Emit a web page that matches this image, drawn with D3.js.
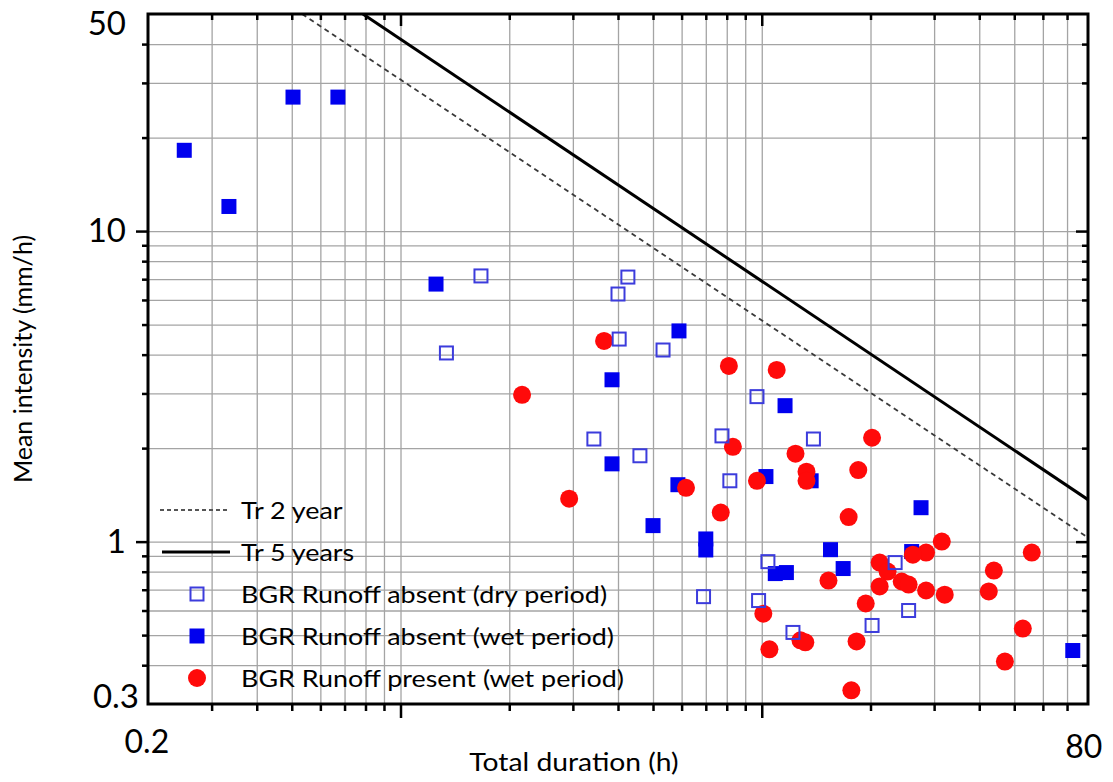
<!DOCTYPE html>
<html lang="en">
<head>
<meta charset="utf-8">
<script src="https://d3js.org/d3.v7.min.js"></script>
<title>Mean intensity vs total duration</title>
<style>
  body { margin: 0; background: #fff; }
  text { font-family: Lato, "Open Sans", sans-serif; fill: #000; }
</style>
</head>
<body>
<div id="chart"></div>
<script>
// [duration (h), mean intensity (mm/h)]
const dryAbsent = [
  [1.67, 7.17], [4.26, 7.11], [4.0, 6.27], [4.03, 4.49], [1.34, 4.05], [5.33, 4.14],
  [9.7, 2.93], [3.43, 2.14], [7.76, 2.19], [13.9, 2.14], [4.6, 1.89], [8.16, 1.57],
  [10.4, 0.862], [23.4, 0.856], [6.9, 0.665], [9.8, 0.646], [25.5, 0.60], [20.2, 0.537],
  [12.2, 0.51]
];
const wetAbsent = [
  [0.252, 18.2], [0.335, 12.0], [0.504, 27.0], [0.671, 27.0], [1.254, 6.75], [5.9, 4.77],
  [3.85, 3.32], [11.6, 2.74], [3.85, 1.78], [5.86, 1.525], [10.27, 1.62], [13.7, 1.57],
  [5.0, 1.126], [7.0, 1.02], [7.0, 0.94], [15.5, 0.942], [10.9, 0.789], [11.7, 0.795],
  [16.8, 0.819], [27.6, 1.286], [26.0, 0.929], [72.6, 0.446]
];
const wetPresent = [
  [3.66, 4.43], [2.17, 2.97], [8.11, 3.68], [11.0, 3.57], [8.32, 2.02], [20.2, 2.16],
  [12.4, 1.92], [13.3, 1.68], [13.3, 1.57], [18.5, 1.70], [9.7, 1.57], [6.17, 1.49],
  [2.93, 1.375], [7.7, 1.24], [17.4, 1.20], [31.5, 1.0], [55.9, 0.922], [28.5, 0.922],
  [26.2, 0.908], [21.2, 0.856], [22.3, 0.801], [43.9, 0.807], [15.3, 0.749], [21.2, 0.717],
  [24.4, 0.744], [25.5, 0.727], [28.5, 0.696], [32.1, 0.675], [42.5, 0.691], [19.4, 0.632],
  [10.1, 0.586], [52.8, 0.525], [12.8, 0.481], [13.2, 0.474], [10.5, 0.45], [18.3, 0.477],
  [47.1, 0.411], [17.7, 0.332]
];
// return-period curves, end points
const tr2 = [[0.534, 50], [80, 1.03]];
const tr5 = [[0.787, 50], [80, 1.365]];

const xDomain = [0.2, 80], yDomain = [0.3, 50];
const xMajor = [1, 10];
const xMinor = [0.3, 0.4, 0.5, 0.6, 0.7, 0.8, 0.9, 2, 3, 4, 5, 6, 7, 8, 9, 20, 30, 40, 50, 60, 70];
const yMajor = [1, 10];
const yMinor = [0.4, 0.5, 0.6, 0.7, 0.8, 0.9, 2, 3, 4, 5, 6, 7, 8, 9, 20, 30, 40];
const xLabels = [0.2, 80];
const yLabels = [0.3, 1, 10, 50];
const legendLabels = ["Tr 2 year", "Tr 5 years", "BGR Runoff absent (dry period)",
  "BGR Runoff absent (wet period)", "BGR Runoff present (wet period)"];

const W = 1113, H = 782;
const margin = { top: 14, right: 25, bottom: 78, left: 148 },
  width = W - margin.left - margin.right,
  height = H - margin.top - margin.bottom;

const svg = d3.select("#chart").append("svg")
  .attr("width", W).attr("height", H)
  .append("g")
  .attr("transform", `translate(${margin.left},${margin.top})`);

const x = d3.scaleLog().domain(xDomain).range([0, width]);
const y = d3.scaleLog().domain(yDomain).range([height, 0]);

const blue = "#0000ee", red = "#ff0a0a", openBlue = "#3c3cdc";

// the source figure is a bit wider than tall, so stretch some texts sideways
function stretch(sel, k) {
  sel.each(function () {
    const w = this.getComputedTextLength();
    d3.select(this).attr("textLength", w * k).attr("lengthAdjust", "spacingAndGlyphs");
  });
}

// grid
const grid = svg.append("g").attr("class", "grid");
grid.append("g")
  .call(d3.axisLeft(y).tickValues(yMinor.concat(yMajor)).tickSize(-width).tickFormat(""));
grid.append("g")
  .attr("transform", `translate(0,${height})`)
  .call(d3.axisBottom(x).tickValues(xMinor.concat(xMajor)).tickSize(-height).tickFormat(""));
grid.selectAll(".domain").remove();
grid.selectAll("line").attr("stroke", "#a4a4a4").attr("stroke-width", 1.3);

// clip for the curves
svg.append("clipPath").attr("id", "plotclip")
  .append("rect").attr("width", width).attr("height", height);

const line = d3.line().x(d => x(d[0])).y(d => y(d[1]));
const curves = svg.append("g").attr("clip-path", "url(#plotclip)");
curves.append("path").datum(tr2).attr("d", line)
  .attr("fill", "none").attr("stroke", "#3a3a3a").attr("stroke-width", 1.8)
  .attr("stroke-dasharray", "5,4");
curves.append("path").datum(tr5).attr("d", line)
  .attr("fill", "none").attr("stroke", "#000").attr("stroke-width", 3);

// points
const sq = 15, osq = 13;
svg.append("g").selectAll("rect")
  .data(wetAbsent).join("rect")
  .attr("x", d => x(d[0]) - sq / 2).attr("y", d => y(d[1]) - sq / 2)
  .attr("width", sq).attr("height", sq).attr("fill", blue);

svg.append("g").selectAll("circle")
  .data(wetPresent).join("circle")
  .attr("cx", d => x(d[0])).attr("cy", d => y(d[1])).attr("r", 9)
  .attr("fill", red);

svg.append("g").selectAll("rect")
  .data(dryAbsent).join("rect")
  .attr("x", d => x(d[0]) - osq / 2).attr("y", d => y(d[1]) - osq / 2)
  .attr("width", osq).attr("height", osq)
  .attr("fill", "none").attr("stroke", openBlue).attr("stroke-width", 2);

// axes ticks
function ticks(axis, vals, size, tr) {
  const g = svg.append("g").attr("transform", tr)
    .call(axis.tickValues(vals).tickSize(size).tickSizeOuter(0).tickFormat(""));
  g.select(".domain").remove();
  g.selectAll("line").attr("stroke", "#000").attr("stroke-width", 2.5);
  return g;
}
ticks(d3.axisLeft(y), yMinor, 6, "translate(0,0)");
ticks(d3.axisLeft(y), yMajor, 12, "translate(0,0)");
ticks(d3.axisRight(y), yMinor, -6, `translate(${width},0)`);
ticks(d3.axisRight(y), yMajor, -12, `translate(${width},0)`);
ticks(d3.axisBottom(x), xMinor, 7, `translate(0,${height})`);
ticks(d3.axisBottom(x), xMajor, 14, `translate(0,${height})`);
ticks(d3.axisTop(x), xMinor, -6, "translate(0,0)");
ticks(d3.axisTop(x), xMajor, -12, "translate(0,0)");

// frame
svg.append("rect").attr("width", width).attr("height", height)
  .attr("fill", "none").attr("stroke", "#000").attr("stroke-width", 3);

// tick labels
const yl = svg.append("g")
  .call(d3.axisLeft(y).tickValues(yLabels).tickSize(0).tickPadding(22).tickFormat(d3.format("")));
yl.select(".domain").remove();
yl.selectAll("text").attr("font-size", 33).attr("font-family", "Lato");
yl.selectAll(".tick").filter(d => d === 0.3).select("text").attr("dy", "0.1em").attr("x", -9);
yl.selectAll(".tick").filter(d => d === 50).select("text").attr("dy", "0.63em");

const xl = svg.append("g").attr("transform", `translate(0,${height})`)
  .call(d3.axisBottom(x).tickValues(xLabels).tickSize(0).tickPadding(26).tickFormat(d3.format("")));
xl.select(".domain").remove();
xl.selectAll("text").attr("font-size", 32).attr("font-family", "Lato");
xl.selectAll(".tick").filter(d => d === 0.2).select("text").attr("dx", "-0.05em");
xl.selectAll(".tick").filter(d => d === 80).select("text").attr("dx", "-0.15em").attr("dy", "0.88em");

// axis titles
svg.append("text")
  .attr("x", 426).attr("y", height + 67)
  .attr("text-anchor", "middle").attr("font-size", 25)
  .text("Total duration (h)")
  .call(stretch, 1.13);

svg.append("text")
  .attr("transform", `translate(${-116},${height / 2}) rotate(-90)`)
  .attr("text-anchor", "middle").attr("font-size", 25)
  .text("Mean intensity (mm/h)");

// legend
const leg = svg.append("g").attr("transform", `translate(0,${height - 194})`);
const rowH = 42;
legendLabels.forEach((lab, i) => {
  const row = leg.append("g").attr("transform", `translate(0,${i * rowH})`);
  if (i === 0) {
    row.append("line").attr("x1", 12).attr("x2", 80)
      .attr("stroke", "#555").attr("stroke-width", 1.8).attr("stroke-dasharray", "4,3");
  } else if (i === 1) {
    row.append("line").attr("x1", 14).attr("x2", 82)
      .attr("stroke", "#000").attr("stroke-width", 3);
  } else if (i === 2) {
    row.append("rect").attr("x", 49 - osq / 2).attr("y", -osq / 2)
      .attr("width", osq).attr("height", osq)
      .attr("fill", "none").attr("stroke", openBlue).attr("stroke-width", 2);
  } else if (i === 3) {
    row.append("rect").attr("x", 49 - sq / 2).attr("y", -sq / 2)
      .attr("width", sq).attr("height", sq).attr("fill", blue);
  } else {
    row.append("circle").attr("cx", 49).attr("r", 9).attr("fill", red);
  }
  row.append("text").attr("x", 93).attr("dy", "0.36em")
    .attr("font-size", 24).text(lab)
    .call(stretch, 1.12);
});
</script>
</body>
</html>
